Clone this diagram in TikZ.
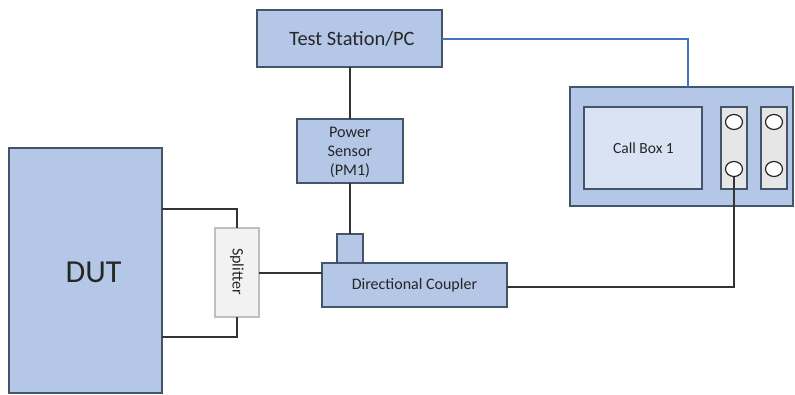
\documentclass[tikz,border=0pt]{standalone}
\usepackage{fontspec}
\usetikzlibrary{shapes.geometric}
\setmainfont{Carlito}
\definecolor{boxfill}{HTML}{B4C7E7}
\definecolor{boxline}{HTML}{44546A}
\definecolor{innerfill}{HTML}{DAE3F3}
\definecolor{stripfill}{HTML}{E7E6E6}
\definecolor{splfill}{HTML}{F2F2F2}
\definecolor{splline}{HTML}{BFBFBF}
\definecolor{wireblue}{HTML}{4472C4}
\definecolor{txt}{HTML}{262626}
\begin{document}
\begin{tikzpicture}[x=1pt,y=-1pt,
  blk/.style={draw=boxline,fill=boxfill,line width=1.2pt,text=txt},
  wire/.style={draw=black!80,line width=1.5pt},
  bwire/.style={draw=wireblue,line width=1.5pt},
  port/.style={draw=black!85,fill=white,line width=1.2pt,ellipse,minimum width=17pt,minimum height=15pt,inner sep=0pt},
  every node/.style={font=\fontsize{16}{19}\selectfont,text=txt,inner sep=0pt}]
\useasboundingbox (0,0) rectangle (795,395);
% Test station
\draw[blk] (257,10) rectangle (442,67);
\node[font=\fontsize{20.4}{24}\selectfont] (ts) at (352,39) {Test Station/PC};
\coordinate (tsE) at (442,39);
\coordinate (tsS) at (350,67);
% Call box
\draw[blk] (570,87) rectangle (793,206);
\draw[draw=boxline,fill=innerfill,line width=1.2pt] (584,107) rectangle (702,189);
\node[font=\fontsize{15.5}{18}\selectfont] (cb) at (643.5,148) {Call Box 1};
\draw[draw=boxline,fill=stripfill,line width=1.2pt] (721,107) rectangle (747,189);
\draw[draw=boxline,fill=stripfill,line width=1.2pt] (761,107) rectangle (787,189);
\node[port] (p1) at (734,122) {};
\node[port] (p2) at (734,169) {};
\node[port] (p3) at (774,122) {};
\node[port] (p4) at (774,169) {};
\coordinate (cbN) at (688,87);
% Power sensor
\draw[blk] (297,119) rectangle (403,183);
\node[align=center,font=\fontsize{16.2}{19}\selectfont] (ps) at (350,152) {Power\\Sensor\\(PM1)};
\coordinate (psN) at (350,119);
\coordinate (psS) at (350,183);
% Directional coupler
\draw[blk] (337,234) rectangle (363,263);
\coordinate (tapN) at (350,234);
\draw[blk] (322,263) rectangle (507,307);
\node (dc) at (414.5,285) {Directional Coupler};
\coordinate (dcW) at (322,273);
\coordinate (dcE) at (507,287);
% Splitter
\draw[draw=splline,fill=splfill,line width=1.2pt] (215,228) rectangle (259,317);
\node[rotate=-90] (sp) at (237,271.5) {Splitter};
\coordinate (spN) at (237,228);
\coordinate (spS) at (237,317);
\coordinate (spE) at (259,273);
% DUT
\draw[blk] (9,148) rectangle (162,393);
\node[font=\fontsize{32}{36}\selectfont] (dut) at (93.5,272) {DUT};
\coordinate (dutA) at (162,209);
\coordinate (dutB) at (162,337);
% wires
\draw[bwire] (tsE) -| (cbN);
\draw[wire] (tsS) -- (psN);
\draw[wire] (psS) -- (tapN);
\draw[wire] (dutA) -| (spN);
\draw[wire] (dutB) -| (spS);
\draw[wire] (spE) -- (dcW);
\draw[wire] (p2.south) |- (dcE);
\end{tikzpicture}
\end{document}
